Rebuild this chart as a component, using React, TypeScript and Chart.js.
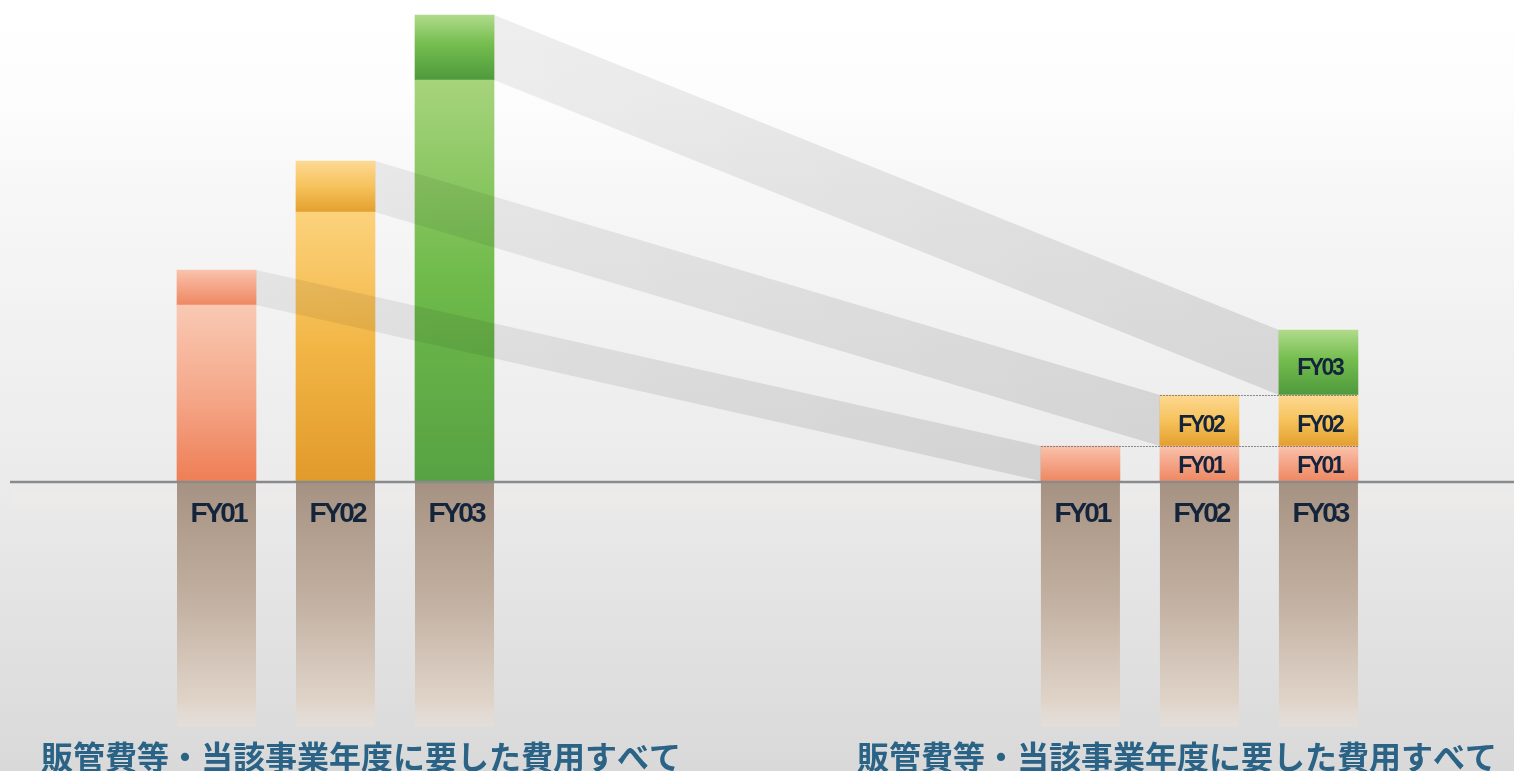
import React, { useEffect, useRef } from "react";
import { Chart, registerables } from "chart.js";

Chart.register(...registerables);

// ---- data ----
const years = ["FY01", "FY02", "FY03"];
const totalExpense = [211, 320, 466]; // full height of each left bar
const yearCost = [35, 51, 65]; // portion attributable to the year itself
const titleText = "販管費等・当該事業年度に要した費用すべて";

// ---- layout constants ----
const W = 1514;
const H = 771;
const Y_MIN = -290;
const Y_MAX = 481;
const STEP_PX = 119;
const X0_PX = 216.5;
const RIGHT_OFFSET = 7.26;
const BAR_W = 79;

const costStops: [number, string][][] = [
  [[0, "#f9c3ac"], [0.5, "#f4a487"], [1, "#ee8863"]],
  [[0, "#fdd993"], [0.5, "#f6c25b"], [1, "#e39f2f"]],
  [[0, "#b0db8b"], [0.45, "#74bd4e"], [1, "#4e9a3d"]],
];
const baseStops: [number, string][][] = [
  [[0, "#f9c9b3"], [0.5, "#f5a98b"], [1, "#ee7e56"]],
  [[0, "#fcd27c"], [0.5, "#f2b646"], [1, "#e19a2b"]],
  [[0, "#a6d47c"], [0.5, "#6fba4a"], [1, "#57a243"]],
];

const baseVals = totalExpense.map((t, i) => t - yearCost[i]);

const datasets: any[] = [
  {
    label: "base",
    data: years.map((_, i) => ({ x: i, y: baseVals[i] })),
  },
  ...years.map((yr, k) => ({
    label: yr,
    data: [
      { x: k, y: yearCost[k] },
      ...years.slice(k).map((_, j) => ({ x: RIGHT_OFFSET + k + j, y: yearCost[k] })),
    ],
  })),
];

function segmentColor(ctx: any) {
  if (ctx.type !== "data") return "rgba(0,0,0,0)";
  const chart = ctx.chart;
  const ys = chart.scales.y;
  const ds = chart.data.datasets;
  const pt = ds[ctx.datasetIndex].data[ctx.dataIndex];
  if (!ys || !pt) return "#ccc";
  let start = 0;
  for (let d = 0; d < ctx.datasetIndex; d++) {
    for (const p of ds[d].data) if (p.x === pt.x) start += p.y;
  }
  const end = start + pt.y;
  const top = ys.getPixelForValue(end);
  const bot = ys.getPixelForValue(start);
  if (!isFinite(top) || !isFinite(bot)) return "#ccc";
  const stops =
    ctx.datasetIndex === 0 ? baseStops[ctx.dataIndex] : costStops[ctx.datasetIndex - 1];
  const g = chart.ctx.createLinearGradient(0, top, 0, bot);
  stops.forEach(([o, c]) => g.addColorStop(o, c));
  return g;
}

const decor = {
  id: "decor",
  beforeDraw(chart: any) {
    const ctx = chart.ctx;
    const g = ctx.createLinearGradient(0, 0, 0, H);
    g.addColorStop(0, "#ffffff");
    g.addColorStop(0.12, "#fdfdfd");
    g.addColorStop(0.25, "#f7f7f7");
    g.addColorStop(0.62, "#ebebeb");
    g.addColorStop(1, "#d9d9d9");
    ctx.save();
    ctx.fillStyle = g;
    ctx.fillRect(0, 0, W, H);
    ctx.restore();
  },
  beforeDatasetsDraw(chart: any) {
    const ctx = chart.ctx;
    const xs = chart.scales.x;
    const ys = chart.scales.y;
    const zero = ys.getPixelForValue(0);
    ctx.save();
    ctx.fillStyle = "rgba(245,238,232,0.3)";
    ctx.fillRect(10, zero + 10, W - 10, 17);
    const cols = [...years.map((_, i) => i), ...years.map((_, i) => RIGHT_OFFSET + i)];
    cols.forEach((xv, idx) => {
      const cx = xs.getPixelForValue(xv);
      const top = zero + 2;
      const bot = zero + 246;
      const g = ctx.createLinearGradient(0, top, 0, bot);
      g.addColorStop(0, "#a69282");
      g.addColorStop(0.45, "#c0ae9f");
      g.addColorStop(0.9, "#e0d4c9");
      g.addColorStop(1, "rgba(234,224,215,0.4)");
      ctx.fillStyle = g;
      ctx.fillRect(cx - BAR_W / 2, top, BAR_W, bot - top);
      ctx.fillStyle = "#14243a";
      ctx.font = 'bold 28px "Liberation Sans", Arial, sans-serif';
      (ctx as any).letterSpacing = "-3px";
      ctx.textAlign = "center";
      ctx.textBaseline = "alphabetic";
      ctx.fillText(years[idx % 3], cx + 1.5, zero + 41);
    });
    ctx.restore();
  },
  afterDatasetsDraw(chart: any) {
    const ctx = chart.ctx;
    const ys = chart.scales.y;
    const zero = ys.getPixelForValue(0);
    ctx.save();
    // connecting bands
    years.forEach((_, k) => {
      const meta = chart.getDatasetMeta(k + 1);
      const l = meta.data[0].getProps(["x", "y", "base", "width"], true);
      const r = meta.data[1].getProps(["x", "y", "base", "width"], true);
      const x1 = l.x + l.width / 2;
      const x2 = r.x - r.width / 2;
      const g = ctx.createLinearGradient(x1, 0, x2, 0);
      g.addColorStop(0, "rgba(0,0,0,0.065)");
      g.addColorStop(1, "rgba(0,0,0,0.105)");
      ctx.fillStyle = g;
      ctx.beginPath();
      ctx.moveTo(x1, l.y);
      ctx.lineTo(x2, r.y);
      ctx.lineTo(x2, r.base);
      ctx.lineTo(x1, l.base);
      ctx.closePath();
      ctx.fill();
    });
    // baseline
    ctx.strokeStyle = "#8a8a8a";
    ctx.lineWidth = 2.5;
    ctx.beginPath();
    ctx.moveTo(10, zero + 1);
    ctx.lineTo(W, zero + 1);
    ctx.stroke();
    // dotted guide lines on right stacks
    const firstMeta = chart.getDatasetMeta(1);
    const lastCol = firstMeta.data[firstMeta.data.length - 1].getProps(["x", "width"], true);
    const rightEdge = lastCol.x + lastCol.width / 2;
    ctx.strokeStyle = "rgba(110,110,110,0.8)";
    ctx.lineWidth = 1;
    ctx.setLineDash([2, 1]);
    [0, 1].forEach((k) => {
      const el = chart.getDatasetMeta(k + 1).data[1].getProps(["x", "y", "width"], true);
      ctx.beginPath();
      ctx.moveTo(el.x - el.width / 2, Math.round(el.y) + 0.5);
      ctx.lineTo(rightEdge, Math.round(el.y) + 0.5);
      ctx.stroke();
    });
    ctx.setLineDash([]);
    // labels inside right stacked segments
    ctx.fillStyle = "#14243a";
    ctx.font = 'bold 23px "Liberation Sans", Arial, sans-serif';
    (ctx as any).letterSpacing = "-2.5px";
    ctx.textAlign = "center";
    ctx.textBaseline = "middle";
    years.forEach((yr, k) => {
      const meta = chart.getDatasetMeta(k + 1);
      for (let i = 1; i < meta.data.length; i++) {
        const colIndex = k + (i - 1);
        if (colIndex === 0) continue;
        const el = meta.data[i].getProps(["x", "y", "base"], true);
        const cy = el.y + (el.base - el.y) * 0.6;
        ctx.fillText(yr, el.x + 1.25, cy);
      }
    });
    ctx.restore();
  },
  afterDraw(chart: any) {
    const ctx = chart.ctx;
    ctx.save();
    ctx.fillStyle = "#2a6385";
    ctx.font = 'bold 32px "Noto Sans CJK JP", sans-serif';
    ctx.textAlign = "left";
    ctx.textBaseline = "alphabetic";
    ctx.fillText(titleText, 41, 769);
    ctx.fillText(titleText, 857, 769);
    ctx.restore();
  },
};

export default function App() {
  const ref = useRef<HTMLCanvasElement>(null);
  useEffect(() => {
    document.body.style.margin = "0";
    document.body.style.overflow = "hidden";
    const canvas = ref.current!;
    const chart = new Chart(canvas, {
      type: "bar",
      data: {
        datasets: datasets.map((d) => ({
          ...d,
          backgroundColor: segmentColor,
          borderWidth: 0,
          barThickness: BAR_W,
        })),
      },
      options: {
        responsive: false,
        devicePixelRatio: 1,
        animation: false,
        layout: { padding: 0 },
        plugins: {
          legend: { display: false },
          tooltip: { enabled: false },
          title: { display: false },
        },
        scales: {
          x: {
            type: "linear",
            display: false,
            offset: false,
            stacked: true,
            min: -X0_PX / STEP_PX,
            max: (W - X0_PX) / STEP_PX,
          },
          y: {
            type: "linear",
            display: false,
            stacked: true,
            min: Y_MIN,
            max: Y_MAX,
          },
        },
      } as any,
      plugins: [decor],
    });
    return () => chart.destroy();
  }, []);
  return (
    <canvas
      ref={ref}
      width={W}
      height={H}
      style={{ display: "block", width: W, height: H }}
    />
  );
}
